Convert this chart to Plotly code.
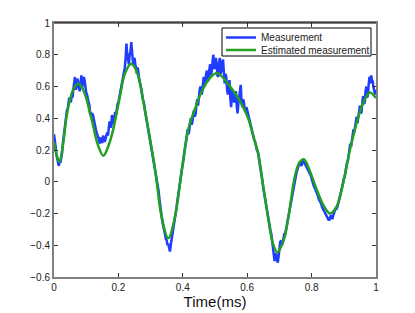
import plotly.graph_objects as go

# Estimated measurement (smooth curve) key points
est_t = [0.000, 0.008, 0.017, 0.027, 0.039, 0.050, 0.062, 0.076, 0.088, 0.100,
         0.111, 0.122, 0.135, 0.153, 0.168, 0.184, 0.195, 0.205, 0.220, 0.239,
         0.252, 0.265, 0.275, 0.293, 0.314, 0.334, 0.355, 0.376, 0.397, 0.417,
         0.438, 0.459, 0.479, 0.505, 0.529, 0.547, 0.578, 0.603, 0.619, 0.634,
         0.650, 0.666, 0.680, 0.694, 0.705, 0.717, 0.733, 0.748, 0.762, 0.776,
         0.793, 0.816, 0.836, 0.857, 0.878, 0.898, 0.919, 0.940, 0.960, 0.981, 1.000]
est_v = [0.25, 0.17, 0.125, 0.22, 0.41, 0.52, 0.59, 0.617, 0.59, 0.527,
         0.44, 0.35, 0.24, 0.164, 0.22, 0.33, 0.44, 0.54, 0.68, 0.743,
         0.716, 0.64, 0.53, 0.33, 0.076, -0.218, -0.355, -0.218, 0.076, 0.33,
         0.46, 0.57, 0.64, 0.685, 0.647, 0.60, 0.506, 0.40, 0.285, 0.18,
         -0.03, -0.24, -0.39, -0.445, -0.41, -0.345, -0.155, 0.033, 0.12, 0.142,
         0.076, -0.05, -0.145, -0.20, -0.155, -0.008, 0.20, 0.37, 0.496, 0.5625, 0.527]

# Measurement samples, every 0.0025 ms from 0 to 1
meas_step = 0.0025
meas_v = [
    0.30, 0.27, 0.22, 0.17, 0.14, 0.12, 0.10, 0.13, 0.12, 0.15, 0.18, 0.24, 0.29, 0.31, 0.36, 0.42, 0.45, 0.46, 0.50, 0.53,
    0.52, 0.50, 0.55, 0.53, 0.58, 0.63, 0.66, 0.58, 0.60, 0.65, 0.63, 0.59, 0.57, 0.61, 0.67, 0.59, 0.62, 0.66, 0.64, 0.58,
    0.56, 0.55, 0.51, 0.50, 0.48, 0.42, 0.44, 0.41, 0.43, 0.40, 0.38, 0.35, 0.33, 0.31, 0.30, 0.28, 0.26, 0.24, 0.28, 0.25,
    0.25, 0.29, 0.28, 0.25, 0.27, 0.30, 0.31, 0.29, 0.33, 0.38, 0.36, 0.34, 0.42, 0.40, 0.36, 0.41, 0.44, 0.42, 0.47, 0.49,
    0.50, 0.53, 0.55, 0.57, 0.60, 0.63, 0.66, 0.70, 0.72, 0.78, 0.87, 0.80, 0.76, 0.74, 0.80, 0.82, 0.88, 0.80, 0.76, 0.74,
    0.78, 0.74, 0.70, 0.68, 0.72, 0.67, 0.64, 0.62, 0.60, 0.57, 0.53, 0.51, 0.49, 0.45, 0.42, 0.40, 0.37, 0.34, 0.31, 0.29,
    0.26, 0.23, 0.20, 0.16, 0.12, 0.10, 0.08, 0.04, 0.01, -0.02, -0.06, -0.11, -0.16, -0.19, -0.23, -0.26, -0.29, -0.31, -0.33, -0.36,
    -0.37, -0.40, -0.39, -0.43, -0.44, -0.40, -0.37, -0.34, -0.31, -0.27, -0.23, -0.20, -0.17, -0.13, -0.09, -0.06, -0.03, 0.02, 0.06, 0.08,
    0.11, 0.16, 0.20, 0.22, 0.25, 0.30, 0.33, 0.30, 0.32, 0.37, 0.40, 0.36, 0.38, 0.43, 0.45, 0.41, 0.43, 0.49, 0.52, 0.48,
    0.54, 0.58, 0.60, 0.55, 0.56, 0.63, 0.66, 0.60, 0.62, 0.68, 0.70, 0.63, 0.65, 0.71, 0.74, 0.67, 0.70, 0.76, 0.80, 0.71,
    0.72, 0.78, 0.75, 0.67, 0.66, 0.74, 0.78, 0.68, 0.70, 0.75, 0.77, 0.69, 0.62, 0.68, 0.66, 0.58, 0.55, 0.61, 0.64, 0.53,
    0.47, 0.54, 0.58, 0.52, 0.50, 0.55, 0.57, 0.48, 0.43, 0.49, 0.53, 0.58, 0.61, 0.50, 0.47, 0.52, 0.50, 0.45, 0.44, 0.47,
    0.45, 0.42, 0.40, 0.38, 0.36, 0.34, 0.32, 0.29, 0.27, 0.26, 0.25, 0.22, 0.20, 0.19, 0.17, 0.13, 0.10, 0.08, 0.05, 0.00,
    -0.04, -0.07, -0.10, -0.14, -0.17, -0.19, -0.22, -0.27, -0.30, -0.31, -0.33, -0.38, -0.40, -0.44, -0.50, -0.45, -0.46, -0.49, -0.51, -0.47,
    -0.42, -0.38, -0.37, -0.40, -0.39, -0.35, -0.33, -0.33, -0.31, -0.28, -0.25, -0.23, -0.20, -0.17, -0.14, -0.11, -0.08, -0.05, -0.02, 0.01,
    0.03, 0.05, 0.07, 0.09, 0.10, 0.12, 0.12, 0.10, 0.11, 0.13, 0.13, 0.12, 0.11, 0.11, 0.10, 0.08, 0.07, 0.06, 0.05, 0.04,
    0.02, 0.00, -0.01, -0.03, -0.04, -0.05, -0.07, -0.08, -0.09, -0.11, -0.12, -0.12, -0.14, -0.16, -0.17, -0.17, -0.18, -0.20, -0.20, -0.21,
    -0.22, -0.24, -0.24, -0.22, -0.21, -0.23, -0.23, -0.21, -0.19, -0.18, -0.17, -0.17, -0.16, -0.14, -0.12, -0.09, -0.07, -0.06, -0.04, -0.01,
    0.02, 0.03, 0.06, 0.10, 0.12, 0.13, 0.16, 0.21, 0.24, 0.22, 0.25, 0.30, 0.33, 0.31, 0.34, 0.38, 0.41, 0.37, 0.40, 0.45,
    0.48, 0.43, 0.44, 0.50, 0.54, 0.49, 0.50, 0.57, 0.60, 0.53, 0.55, 0.62, 0.66, 0.62, 0.67, 0.64, 0.63, 0.59, 0.56, 0.55,
    0.58,
]
meas_t = [round(i * meas_step, 5) for i in range(len(meas_v))]

x_ticks = [0, 0.2, 0.4, 0.6, 0.8, 1]
x_tick_labels = ["0", "0.2", "0.4", "0.6", "0.8", "1"]
y_ticks = [-0.6, -0.4, -0.2, 0, 0.2, 0.4, 0.6, 0.8, 1]
y_tick_labels = ["\u22120.6", "\u22120.4", "\u22120.2", "0", "0.2", "0.4", "0.6", "0.8", "1"]

FONT = "Liberation Sans, Arial, Helvetica, sans-serif"

# page has an 8px body margin; plot area target: x 54..376, y 23..277 in the window
W, H = 407, 305
ML, MR, MT, MB = 46, 39, 15, 36
PX0, PY0 = 8 + ML, 8 + MT
PW, PH = W - ML - MR, H - MT - MB


def px_to_paper_x(px):
    return (px - PX0) / PW


def px_to_paper_y(py):
    return (PY0 + PH - py) / PH


fig = go.Figure()
fig.add_trace(go.Scatter(x=meas_t, y=meas_v, mode="lines", name="Measurement",
                         line=dict(color="#1f3cff", width=2.5), legend="legend"))
fig.add_trace(go.Scatter(x=est_t, y=est_v, mode="lines", name="Estimated measurement",
                         line=dict(color="#22a022", width=2.5, shape="spline", smoothing=1.0),
                         legend="legend2"))

# legend box and thin black top border
fig.add_shape(type="rect", xref="paper", yref="paper", layer="above",
              x0=px_to_paper_x(222), x1=px_to_paper_x(371),
              y0=px_to_paper_y(56), y1=px_to_paper_y(28),
              line=dict(color="black", width=1), fillcolor="white")
fig.add_shape(type="line", xref="paper", yref="paper", x0=0, x1=1, y0=1, y1=1,
              line=dict(color="black", width=1))

leg_common = dict(xanchor="left", yanchor="top", bgcolor="rgba(0,0,0,0)", borderwidth=0,
                  font=dict(family=FONT, size=10, color="#222222"), itemwidth=30)
fig.update_layout(
    width=W, height=H,
    margin=dict(l=ML, r=MR, t=MT, b=MB),
    paper_bgcolor="white", plot_bgcolor="white",
    font=dict(family=FONT, size=10, color="#222222"),
    showlegend=True,
    legend=dict(x=px_to_paper_x(221), y=px_to_paper_y(23), **leg_common),
    legend2=dict(x=px_to_paper_x(221), y=px_to_paper_y(35.5), **leg_common),
)
fig.update_xaxes(range=[0, 1], tickvals=x_ticks, ticktext=x_tick_labels,
                 showgrid=False, zeroline=False, automargin=False,
                 tickfont=dict(family=FONT, size=10, color="#222222"),
                 showline=True, linecolor="#808080", linewidth=2, mirror="ticks",
                 ticks="inside", ticklen=4, tickcolor="#333333", tickwidth=1,
                 title=dict(text="Time(ms)", font=dict(family=FONT, size=15, color="#111111"), standoff=3))
fig.update_yaxes(range=[-0.6, 1], tickvals=y_ticks, ticktext=y_tick_labels,
                 showgrid=False, zeroline=False, automargin=False,
                 tickfont=dict(family=FONT, size=10, color="#222222"),
                 showline=True, linecolor="#808080", linewidth=2, mirror="ticks",
                 ticks="inside", ticklen=4, tickcolor="#333333", tickwidth=1)

fig.write_html("out.html")
